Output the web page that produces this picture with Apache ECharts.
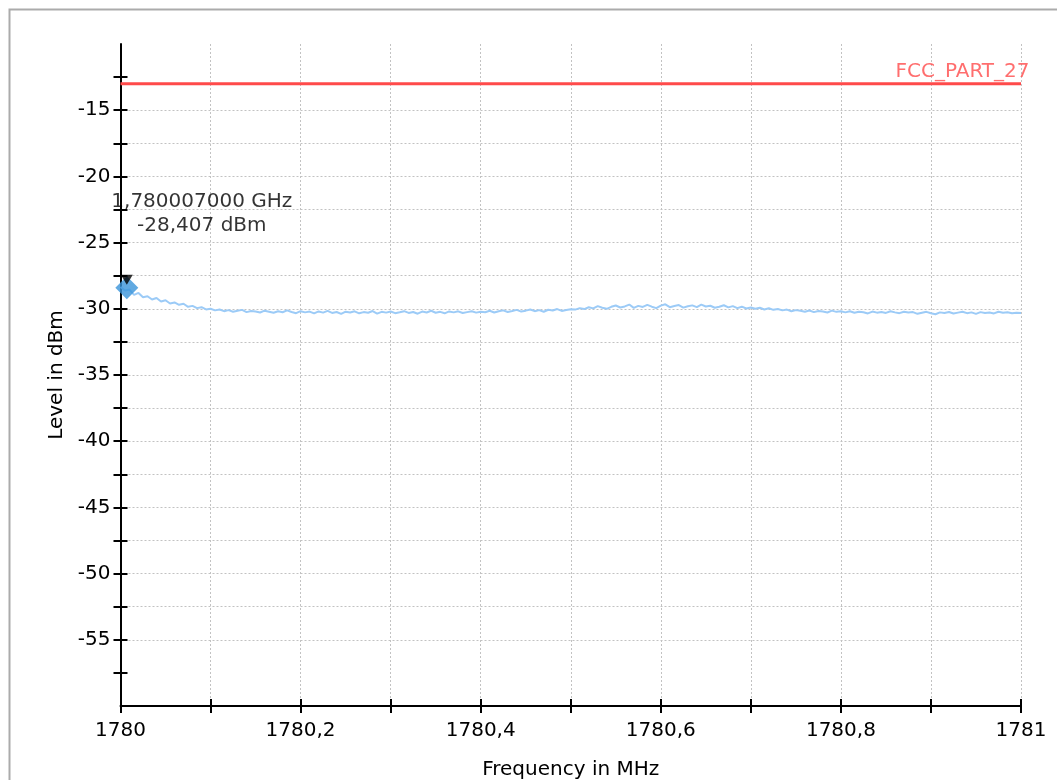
<!DOCTYPE html>
<html><head><meta charset="utf-8">
<script src="https://cdn.jsdelivr.net/npm/echarts@6.0.0/dist/echarts.min.js"></script>
<style>html,body{margin:0;padding:0;background:#fff;} #chart{width:1057px;height:780px;}</style>
</head><body><div id="chart"></div>
<script>
const freqStart = 1780;
const freqStep = 0.005;
const traceLevels = [
 -28.35,-28.62,-28.55,-28.95,-28.80,-29.12,-29.05,-29.30,-29.18,-29.45,-29.35,-29.60,-29.52,-29.70,-29.62,-29.85,-29.78,-29.95,-29.88,-30.05,-30.00,
 -30.12,-30.05,-30.18,-30.10,-30.22,-30.15,-30.08,-30.25,-30.17,-30.20,-30.28,-30.14,-30.22,-30.30,-30.19,-30.26,-30.12,-30.24,-30.33,-30.18,
 -30.27,-30.21,-30.35,-30.20,-30.29,-30.16,-30.31,-30.24,-30.38,-30.22,-30.28,-30.19,-30.34,-30.25,-30.30,-30.17,-30.36,-30.23,-30.29,-30.20,
 -30.33,-30.26,-30.18,-30.31,-30.24,-30.37,-30.21,-30.28,-30.15,-30.30,-30.23,-30.34,-30.20,-30.27,-30.19,-30.32,-30.25,-30.18,-30.29,-30.22,
 -30.26,-30.15,-30.28,-30.19,-30.12,-30.24,-30.17,-30.08,-30.21,-30.14,-30.05,-30.18,-30.10,-30.22,-30.07,-30.13,-30.02,-30.16,-30.09,-30.04,
 -30.06,-29.95,-30.02,-29.88,-29.97,-29.80,-29.92,-30.00,-29.85,-29.75,-29.90,-29.82,-29.68,-29.93,-29.78,-29.86,-29.70,-29.84,-29.95,-29.76,
 -29.66,-29.88,-29.79,-29.72,-29.91,-29.81,-29.74,-29.87,-29.69,-29.83,-29.77,-29.92,-29.85,-29.73,-29.89,-29.80,-29.95,-29.84,-29.98,-29.90,
 -30.00,-29.92,-30.05,-29.96,-30.08,-30.02,-30.12,-30.06,-30.18,-30.10,-30.15,-30.22,-30.13,-30.25,-30.17,-30.20,-30.28,-30.14,-30.23,-30.19,
 -30.27,-30.18,-30.30,-30.22,-30.26,-30.35,-30.21,-30.29,-30.24,-30.31,-30.19,-30.27,-30.33,-30.22,-30.28,-30.25,-30.38,-30.30,-30.23,-30.34,
 -30.41,-30.27,-30.32,-30.24,-30.36,-30.29,-30.22,-30.33,-30.27,-30.38,-30.25,-30.31,-30.28,-30.35,-30.22,-30.30,-30.26,-30.33,-30.29,-30.31
];
const limitName = 'FCC_PART_27';
const limitLevel = -13;
const markerFreq = 1780.007;
const markerLevel = -28.407;
const markerText = ['1,780007000 GHz', '-28,407 dBm'];
const xTickValues = [1780, 1780.1, 1780.2, 1780.3, 1780.4, 1780.5, 1780.6, 1780.7, 1780.8, 1780.9, 1781];
const xLabelValues = [1780, 1780.2, 1780.4, 1780.6, 1780.8, 1781];
const xTickLabels = ['1780', '1780,2', '1780,4', '1780,6', '1780,8', '1781'];
const yTickValues = [-57.5, -55, -52.5, -50, -47.5, -45, -42.5, -40, -37.5, -35, -32.5, -30, -27.5, -25, -22.5, -20, -17.5, -15, -12.5];
const yLabelValues = [-55, -50, -45, -40, -35, -30, -25, -20, -15];
const yTickLabels = ['-55', '-50', '-45', '-40', '-35', '-30', '-25', '-20', '-15'];

const FONT = 'DejaVu Sans';
const traceData = traceLevels.map((v, i) => [freqStart + i * freqStep, v]);
function lookup(vals, labels, v) {
  for (let i = 0; i < vals.length; i++) if (Math.abs(vals[i] - v) < 1e-6) return labels[i];
  return '';
}
const tickStyle = {color: '#000', width: 2};
const gridLine = {type: [2, 2], color: '#c2c2c2', width: 1};

const chart = echarts.init(document.getElementById('chart'), null, {renderer: 'canvas'});
chart.setOption({
  animation: false,
  backgroundColor: '#fff',
  graphic: [{type: 'rect', left: 7, top: 7, silent: true, z: -10,
    shape: {width: 1200, height: 900}, style: {fill: 'none', stroke: '#ababab', lineWidth: 2}}],
  grid: {left: 120.5, right: 36, top: 44, bottom: 74, containLabel: false, outerBoundsMode: 'none'},
  xAxis: [{
    type: 'value', min: 1780, max: 1781, interval: 0.1, position: 'bottom',
    axisLine: {lineStyle: tickStyle},
    axisTick: {show: true, length: 7, lineStyle: tickStyle},
    axisLabel: {margin: 15, fontSize: 20, fontFamily: FONT, color: '#000',
      customValues: xLabelValues, formatter: v => lookup(xLabelValues, xTickLabels, v)},
    splitLine: {show: true, showMinLine: false, lineStyle: gridLine},
    name: 'Frequency in MHz', nameLocation: 'middle', nameGap: 54,
    nameTextStyle: {fontSize: 20, fontFamily: FONT, color: '#000'}
  }, {
    type: 'value', min: 1780, max: 1781, interval: 0.1, position: 'bottom', offset: 0,
    axisLine: {show: false},
    axisTick: {show: true, inside: true, length: 7, lineStyle: tickStyle},
    axisLabel: {show: false}, splitLine: {show: false}
  }],
  yAxis: [{
    type: 'value', min: -60, max: -10, interval: 2.5, position: 'left',
    axisLine: {lineStyle: tickStyle},
    axisTick: {show: true, length: 7, lineStyle: tickStyle, customValues: yTickValues},
    axisLabel: {margin: 10, fontSize: 20, fontFamily: FONT, color: '#000',
      customValues: yLabelValues, formatter: v => lookup(yLabelValues, yTickLabels, v)},
    splitLine: {show: true, showMinLine: false, showMaxLine: false, lineStyle: gridLine},
    name: 'Level in dBm', nameLocation: 'middle', nameGap: 50,
    nameTextStyle: {fontSize: 20, fontFamily: FONT, color: '#000'}
  }, {
    type: 'value', min: -60, max: -10, interval: 2.5, position: 'left', offset: 0,
    axisLine: {show: false},
    axisTick: {show: true, inside: true, length: 7, lineStyle: tickStyle, customValues: yTickValues},
    axisLabel: {show: false}, splitLine: {show: false}
  }],
  series: [{
    name: 'trace', type: 'line', data: traceData, showSymbol: false, z: 2,
    lineStyle: {color: '#9ccbf7', width: 2}, itemStyle: {color: '#9ccbf7'}
  }, {
    name: limitName, type: 'line', data: [[xTickValues[0], limitLevel], [xTickValues[xTickValues.length - 1], limitLevel]],
    showSymbol: false, symbol: 'none', z: 3,
    lineStyle: {color: '#ff4a4a', width: 3}
  }, {
    name: 'limitLabel', type: 'scatter', data: [[xTickValues[xTickValues.length - 1], limitLevel]],
    symbolSize: 1, itemStyle: {color: 'rgba(0,0,0,0)'}, z: 4,
    label: {show: true, formatter: limitName, position: 'left', distance: 0, offset: [9, -12],
      fontSize: 20, fontFamily: FONT, color: '#ff4a4a'}
  }, {
    name: 'marker', type: 'scatter', data: [[markerFreq, markerLevel]],
    symbol: 'diamond', symbolSize: 23, itemStyle: {color: '#3a94da'}, z: 5,
    label: {show: true, formatter: markerText.join('\n'), position: 'top', distance: 3,
      offset: [75, -35], align: 'center', lineHeight: 24,
      fontSize: 20, fontFamily: FONT, color: '#000'}
  }, {
    name: 'markerHead', type: 'scatter', data: [[markerFreq, markerLevel]],
    symbol: 'triangle', symbolRotate: 180, symbolSize: [12, 10], symbolOffset: [0, -8],
    itemStyle: {color: '#000'}, z: 6
  }]
});
</script>
</body></html>
